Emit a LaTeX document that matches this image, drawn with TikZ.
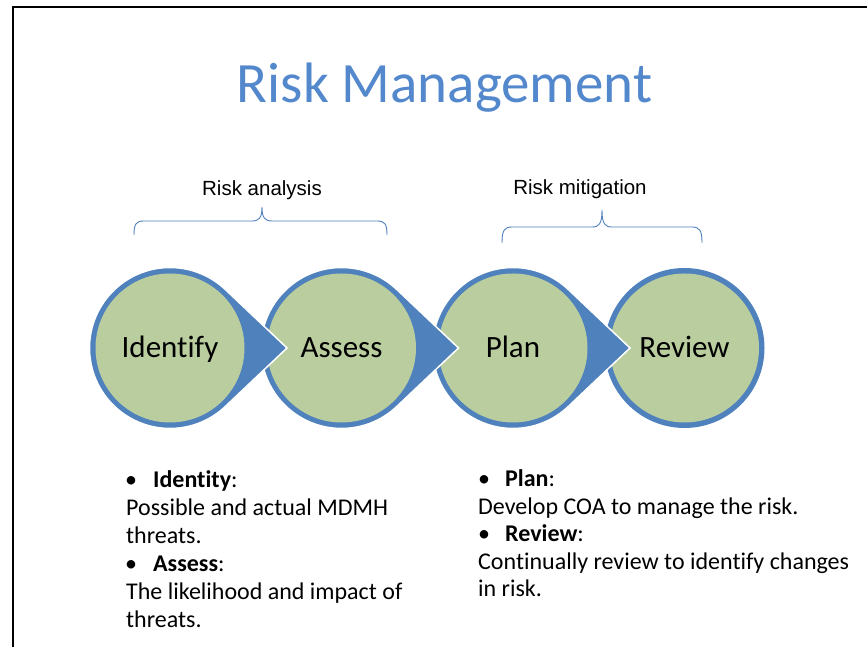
\documentclass[tikz,border=0pt]{standalone}
\usepackage{fontspec}
\setmainfont{Carlito}[Ligatures=NoCommon]
\newfontfamily\arialfont{Liberation Sans}
\definecolor{ringblue}{RGB}{79,129,189}
\definecolor{fillgreen}{RGB}{186,205,159}
\definecolor{titleblue}{RGB}{84,136,204}
\begin{document}
\begin{tikzpicture}[x=1pt,y=1pt,
  tear/.style={fill=ringblue, draw=white, line width=1.5pt},
  stagecircle/.style={circle, fill=fillgreen, minimum size=149pt, inner sep=0pt,
    text height=20pt, text depth=0pt, font=\fontsize{31}{37}\selectfont},
  bracelbl/.style={anchor=base, inner sep=0pt, font=\arialfont\fontsize{20.5}{24}\selectfont},
  bracepath/.style={draw=ringblue, line width=0.9pt},
  bodytxt/.style={anchor=base west, inner sep=0pt, font=\fontsize{24}{28}\selectfont}]
\useasboundingbox (0,0) rectangle (867,647);
% frame
\draw[line width=2pt] (12,640) -- (867,640);
\draw[line width=2pt] (13,641) -- (13,0);
% title
\node[anchor=base, inner sep=0pt, text=titleblue, font=\fontsize{57}{64}\selectfont] (title) at (444.5,544) {Risk Management};
% brace labels
\node[bracelbl] (lblA) at (262,451) {Risk analysis};
\node[bracelbl] (lblM) at (580,452) {Risk mitigation};
% braces
\path[bracepath] (134,412) .. controls (134,423) and (136,426) .. (144,426) -- (252,426)
  .. controls (259,426) and (262,429) .. (262,440)
  .. controls (262,429) and (265,426) .. (272,426) -- (377,426)
  .. controls (385,426) and (387,423) .. (387,412);
\path[bracepath] (502,404) .. controls (502,416) and (504,420) .. (512,420) -- (592,420)
  .. controls (599,420) and (602,423) .. (602,437)
  .. controls (602,423) and (605,420) .. (612,420) -- (692,420)
  .. controls (700,420) and (702,416) .. (702,404);
% stages (drawn right to left so tails overlap the next circle)
\fill[ringblue] (684.5,299) circle[radius=80];
\node[stagecircle] (rev) at (684.5,299) {Review};
\foreach \cx/\nm/\txt in {513/pla/Plan, 341.5/ass/Assess, 170/ide/Identify}{
  \filldraw[tear] ([shift={(\cx,299)}]46.5:80.5) arc[start angle=46.5, end angle=313.5, radius=80.5]
     -- (\cx+117,299) -- cycle;
  \node[stagecircle] (\nm) at (\cx,299) {\txt};
}
% left text
\node[bodytxt] (b1) at (125,159) {•};
\node[bodytxt] (t1) at (153,159) {\textbf{Identity}:};
\node[bodytxt] (t2) at (126,131) {Possible and actual MDMH};
\node[bodytxt] (t3) at (126,103) {threats.};
\node[bodytxt] (b2) at (125,75) {•};
\node[bodytxt] (t4) at (153,75) {\textbf{Assess}:};
\node[bodytxt] (t5) at (126,47) {The likelihood and impact of};
\node[bodytxt] (t6) at (126,19) {threats.};
% right text
\node[bodytxt] (b3) at (478,160) {•};
\node[bodytxt] (r1) at (505,160) {\textbf{Plan}:};
\node[bodytxt] (r2) at (478,132) {Develop COA to manage the risk.};
\node[bodytxt] (b4) at (478,105) {•};
\node[bodytxt] (r3) at (505,105) {\textbf{Review}:};
\node[bodytxt] (r4) at (478,77) {Continually review to identify changes};
\node[bodytxt] (r5) at (478,50) {in risk.};
\end{tikzpicture}
\end{document}
